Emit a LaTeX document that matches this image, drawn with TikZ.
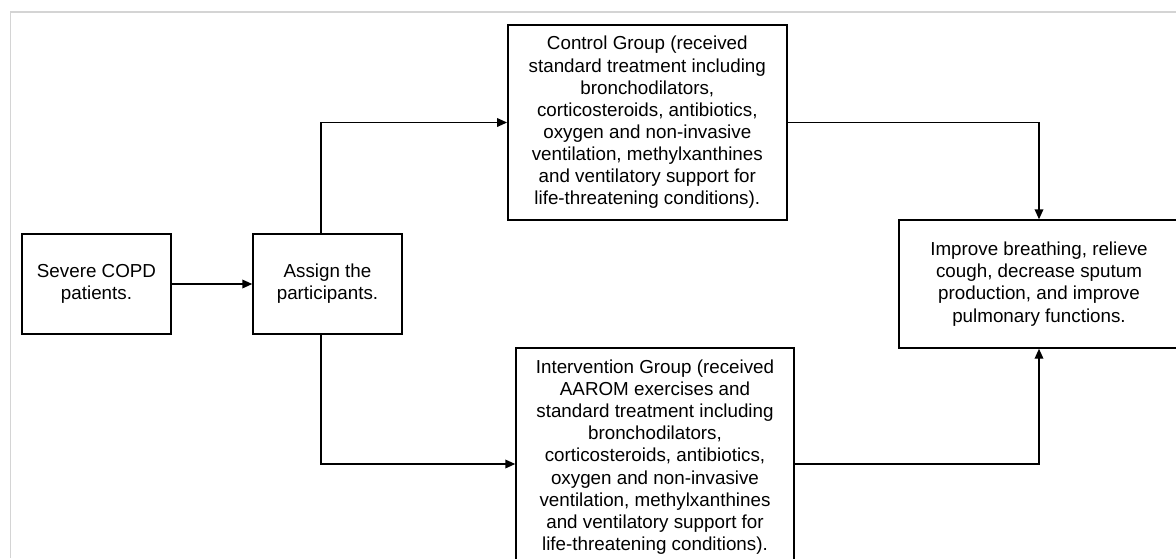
\documentclass[tikz,border=0pt]{standalone}
\usepackage{fontspec}
\setmainfont{Liberation Sans}
\usetikzlibrary{arrows.meta}
\begin{document}
\begin{tikzpicture}[x=0.75pt,y=-0.75pt,
  box/.style={draw=black,line width=1.1pt,rectangle,align=center,inner sep=0pt,
    font=\fontsize{14.1}{16.6}\selectfont},
  conn/.style={draw=black,line width=1.1pt,-{Triangle[length=7.5pt,width=6.5pt]}},
  frame/.style={draw=black!17,line width=0.8pt}]
\useasboundingbox (0,0) rectangle (1176,558);
\clip (0,0) rectangle (1176,558);
\draw[frame] (10.3,558) -- (10.3,12) -- (1176,12);
\node[box,minimum width=149*0.75pt,minimum height=100*0.75pt] (b1) at (96.5,284) {Severe COPD\\patients.};
\node[box,minimum width=149*0.75pt,minimum height=100*0.75pt] (b2) at (327.5,284) {Assign the\\participants.};
\node[box,minimum width=279*0.75pt,minimum height=195*0.75pt] (ctrl) at (647.3,122.5) {Control Group (received\\standard treatment including\\bronchodilators,\\corticosteroids, antibiotics,\\oxygen and non-invasive\\ventilation, methylxanthines\\and ventilatory support for\\life-threatening conditions).};
\node[box,minimum width=278*0.75pt,minimum height=218*0.75pt] (int) at (655,457) {Intervention Group (received\\AAROM exercises and\\standard treatment including\\bronchodilators,\\corticosteroids, antibiotics,\\oxygen and non-invasive\\ventilation, methylxanthines\\and ventilatory support for\\life-threatening conditions).};
\node[box,minimum width=280*0.75pt,minimum height=128*0.75pt] (out) at (1039,284) {Improve breathing, relieve\\cough, decrease sputum\\production, and improve\\pulmonary functions.};
\coordinate (sx) at (321,284);
\coordinate (iy) at (0,464);
\draw[conn] (b1.east) -- (b2.west);
\draw[conn] (b2.north -| sx) |- (ctrl.west);
\draw[conn] (b2.south -| sx) |- (int.west |- iy);
\draw[conn] (ctrl.east) -| (out.north);
\draw[conn] (int.east |- iy) -| (out.south);
\end{tikzpicture}
\end{document}
